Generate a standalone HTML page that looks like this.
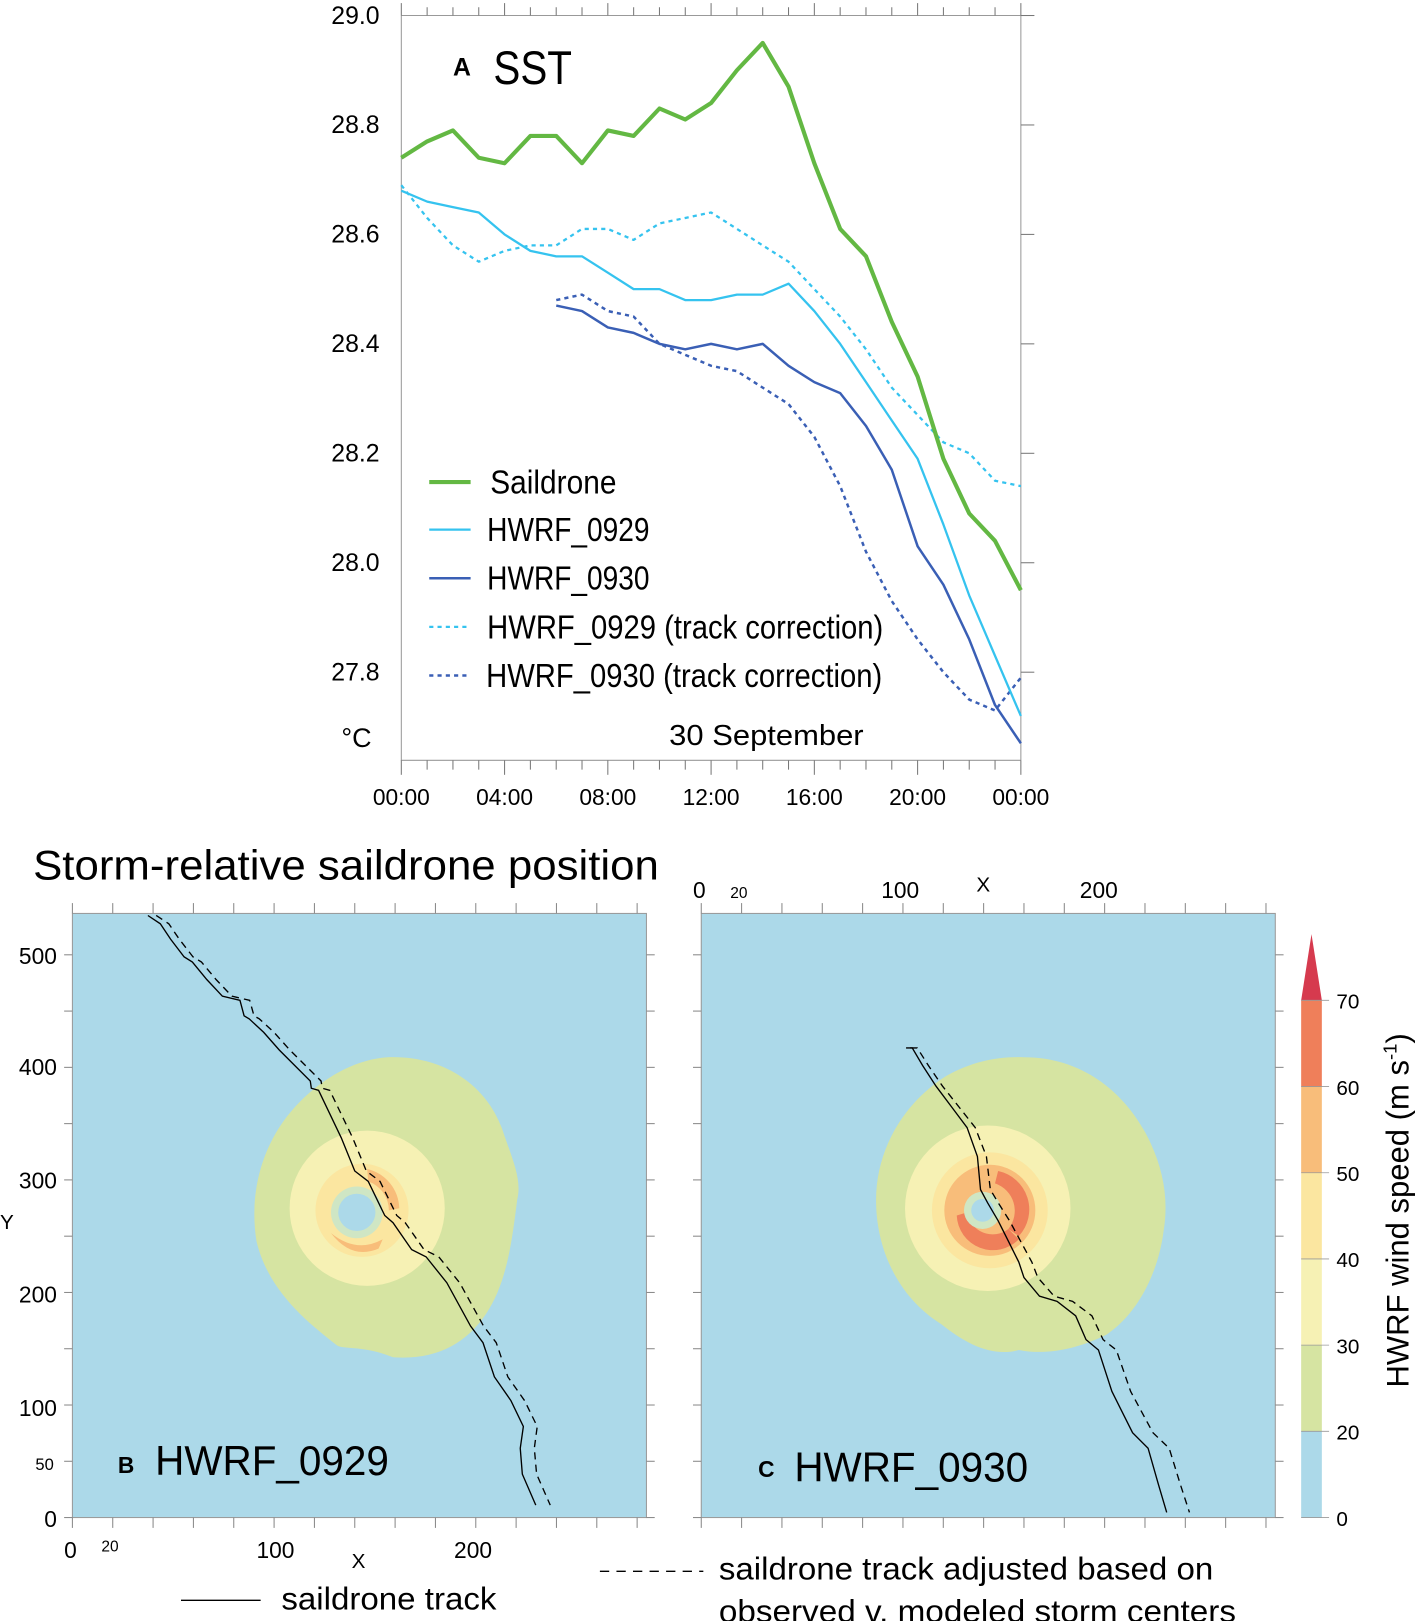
<!DOCTYPE html>
<html><head><meta charset="utf-8"><style>
html,body{margin:0;padding:0;background:#fff;}
svg{display:block;font-family:"Liberation Sans",sans-serif;}
</style></head><body>
<svg id="fig" width="1417" height="1621" viewBox="0 0 1370 1567" preserveAspectRatio="none" xmlns="http://www.w3.org/2000/svg">
<g id="panelA"></g>
<g id="panelB"></g>
<g id="panelC"></g>
</svg>
<script>
const hours = [0,1,2,3,4,5,6,7,8,9,10,11,12,13,14,15,16,17,18,19,20,21,22,23,24];
const saildrone = [28.74,28.77,28.79,28.74,28.73,28.78,28.78,28.73,28.79,28.78,28.83,28.81,28.84,28.90,28.95,28.87,28.73,28.61,28.56,28.44,28.34,28.19,28.09,28.04,27.95];
const hwrf0929 = [28.68,28.66,28.65,28.64,28.60,28.57,28.56,28.56,28.53,28.50,28.50,28.48,28.48,28.49,28.49,28.51,28.46,28.40,28.33,28.26,28.19,28.07,27.94,27.83,27.72];
const hwrf0929tc = [28.69,28.63,28.58,28.55,28.57,28.58,28.58,28.61,28.61,28.59,28.62,28.63,28.64,28.61,28.58,28.55,28.50,28.45,28.39,28.32,28.27,28.22,28.20,28.15,28.14];
const hwrf0930Hours = [6,7,8,9,10,11,12,13,14,15,16,17,18,19,20,21,22,23,24];
const hwrf0930 = [28.47,28.46,28.43,28.42,28.40,28.39,28.40,28.39,28.40,28.36,28.33,28.31,28.25,28.17,28.03,27.96,27.86,27.74,27.67];
const hwrf0930tc = [28.48,28.49,28.46,28.45,28.40,28.38,28.36,28.35,28.32,28.29,28.23,28.14,28.02,27.93,27.86,27.80,27.75,27.73,27.79];
const yTicks = [29.0,28.8,28.6,28.4,28.2,28.0,27.8];
const xTickHours = [0,4,8,12,16,20,24];
const xTickLabels = ["00:00","04:00","08:00","12:00","16:00","20:00","00:00"];
const legendLabels = ["Saildrone","HWRF_0929","HWRF_0930","HWRF_0929 (track correction)","HWRF_0930 (track correction)"];
const cbLevels = [0,20,30,40,50,60,70];
const cbColors = ["#acd9e9","#d6e4a2","#f6f1b4","#fbe6a0","#f8bd7a","#ef7f5a"];

const NS="http://www.w3.org/2000/svg";
function mk(parent,tag,attrs,text){const e=document.createElementNS(NS,tag);for(const k in attrs)e.setAttribute(k,attrs[k]);if(text!==undefined)e.textContent=text;parent.appendChild(e);return e;}
const A=document.getElementById('panelA');
const X0=388,X1=987,Ytop=15,Ybot=735;
const sx=h=>X0+(X1-X0)*h/24;
const sy=v=>15+(29.0-v)/0.2*105.8;
let e;
e=mk(A,'path',{d:`M${X0},${Ytop}H1000M${X0},${Ytop}V${Ybot}H${X1}M${X1},${Ytop}V${Ybot}`,stroke:'#999',fill:'none','stroke-width':1});

for(let h=0;h<=24;h++){const x=sx(h);const big=h%4===0;
 mk(A,'line',{x1:x,x2:x,y1:Ytop,y2:Ytop-(big?12:8),stroke:'#777'});
 mk(A,'line',{x1:x,x2:x,y1:Ybot,y2:Ybot+(big?14:9),stroke:'#777'});}
yTicks.forEach(v=>{const y=sy(v);
 mk(A,'line',{x1:X1,x2:1000,y1:y,y2:y,stroke:'#777'});
 e=mk(A,'text',{x:367,y:y+8,'text-anchor':'end','font-size':24},v.toFixed(1));
 });
xTickHours.forEach((h,i)=>{e=mk(A,'text',{x:sx(h),y:778,'text-anchor':'middle','font-size':22},xTickLabels[i]);
 });
function line(xs,vs,color,w,dash,name){const d=vs.map((v,i)=>(i?'L':'M')+sx(xs[i]).toFixed(1)+','+sy(v).toFixed(1)).join('');
 const p=mk(A,'path',{d,stroke:color,'stroke-width':w,fill:'none','stroke-linejoin':'round'});if(dash)p.setAttribute('stroke-dasharray',dash);
 }
line(hours,hwrf0929tc,'#35c3ef',2.2,'4,4','series-hwrf0929-track-correction');
line(hwrf0930Hours,hwrf0930tc,'#3a5fb5',2.4,'4,4','series-hwrf0930-track-correction');
line(hours,hwrf0929,'#35c3ef',2.2,null,'series-hwrf0929');
line(hwrf0930Hours,hwrf0930,'#3a5fb5',2.4,null,'series-hwrf0930');
line(hours,saildrone,'#63b843',4,null,'series-saildrone');
e=mk(A,'text',{x:438,y:73,'font-size':24,'font-weight':'bold'},'A');
e=mk(A,'text',{x:477,y:81,'font-size':46,textLength:76,lengthAdjust:'spacingAndGlyphs'},'SST');
e=mk(A,'text',{x:330,y:722,'font-size':26},'°C');
e=mk(A,'text',{x:647,y:720,'font-size':28,textLength:188,lengthAdjust:'spacingAndGlyphs'},'30 September');
const legStyle=[['#63b843',4,null],['#35c3ef',2.2,null],['#3a5fb5',2.4,null],['#35c3ef',2.2,'4,4'],['#3a5fb5',2.4,'4,4']];
const legY=[466,512,559,606,653];const legX=[474,471,471,471,470];const legW=[122,157,157,383,383];
legendLabels.forEach((t,i)=>{const y=legY[i];
 const l=mk(A,'line',{x1:415,x2:455,y1:y,y2:y,stroke:legStyle[i][0],'stroke-width':legStyle[i][1]});if(legStyle[i][2])l.setAttribute('stroke-dasharray',legStyle[i][2]);
 
 const tx=mk(A,'text',{x:legX[i],y:y+11,'font-size':32,textLength:legW[i],lengthAdjust:'spacingAndGlyphs'},t);
 });

const svg=document.getElementById('fig');
e=mk(svg,'text',{x:32,y:850,'font-size':40,textLength:605,lengthAdjust:'spacingAndGlyphs'},'Storm-relative saildrone position');

function panel(g,px){
 const x0=px,x1=px+555,y0=883,y1=1467;
 e=mk(g,'rect',{x:x0,y:y0,width:555,height:584,fill:'#acd9e9',stroke:'#999'});
 
 for(let k=0;k<=14;k++){const x=x0+39*k;if(x>x1+1)break;
  mk(g,'line',{x1:x,x2:x,y1:y1,y2:y1+10,stroke:'#888'});mk(g,'line',{x1:x,x2:x,y1:y0,y2:y0-10,stroke:'#888'});}
 for(let v=0;v<=500;v+=50){const y=1467-v*1.088;mk(g,'line',{x1:x0-8,x2:x0,y1:y,y2:y,stroke:'#888'});mk(g,'line',{x1:x1,x2:x1+8,y1:y,y2:y,stroke:'#888'});}
}
const B=document.getElementById('panelB'),C=document.getElementById('panelC');
panel(B,70);panel(C,678);
mk(B,'path',{d:'M375,1022 C430,1020 470,1050 485,1090 C495,1120 505,1140 500,1160 C495,1200 490,1240 470,1270 C450,1300 420,1315 380,1312 C350,1300 330,1305 325,1300 C300,1280 260,1250 248,1200 C240,1150 255,1100 290,1065 C315,1040 345,1024 375,1022Z',fill:'#d6e4a2',});
mk(B,'circle',{cx:355,cy:1168,r:75,fill:'#f6f1b4',});
mk(B,'circle',{cx:350,cy:1170,r:45,fill:'#fbe6a0',});
mk(B,'path',{d:'M355,1130 A40,40 0 0 1 386,1168 L376,1170 A30,30 0 0 0 356,1142Z',fill:'#f8bd7a',});
mk(B,'path',{d:'M320,1192 Q345,1212 370,1198 L366,1207 Q340,1218 320,1192Z',fill:'#f8bd7a',});
mk(B,'circle',{cx:345,cy:1172,r:25,fill:'#cfe6c4',});
mk(B,'circle',{cx:345,cy:1172,r:18,fill:'#acd9e9',});
mk(C,'path',{d:'M990,1022 C1050,1022 1090,1060 1110,1100 C1125,1130 1130,1160 1125,1190 C1120,1230 1100,1270 1070,1290 C1040,1305 1010,1310 985,1305 C960,1312 935,1300 910,1280 C870,1255 847,1210 847,1160 C847,1110 875,1065 915,1040 C940,1026 965,1021 990,1022Z',fill:'#d6e4a2',});
mk(C,'circle',{cx:955,cy:1168,r:80,fill:'#f6f1b4',});
mk(C,'circle',{cx:957,cy:1170,r:56,fill:'#fbe6a0',});
mk(C,'circle',{cx:957,cy:1170,r:44,fill:'#f8bd7a',});
mk(C,'path',{d:'M965,1132 A38,38 0 0 1 985,1195 L975,1188 A28,28 0 0 0 962,1144Z',fill:'#ef7f5a',});
mk(C,'path',{d:'M925,1175 A35,35 0 0 0 985,1198 L975,1188 A25,25 0 0 1 935,1172Z',fill:'#ef7f5a',});
mk(C,'circle',{cx:950,cy:1170,r:18,fill:'#cfe6c4',});
mk(C,'circle',{cx:950,cy:1170,r:11,fill:'#acd9e9',});
const trackB=[[143,885],[155,893],[165,908],[178,925],[186,930],[200,947],[215,963],[232,967],[236,982],[241,985],[255,998],[270,1015],[300,1045],[301,1052],[308,1054],[330,1100],[343,1132],[356,1142],[372,1175],[380,1182],[398,1208],[412,1215],[432,1240],[455,1282],[467,1298],[478,1331],[494,1354],[506,1379],[503,1400],[505,1425],[518,1455]];
const trackC=[[876,1013],[882,1013],[892,1030],[905,1050],[920,1070],[935,1090],[945,1118],[948,1150],[955,1163],[965,1180],[975,1200],[985,1220],[990,1235],[1005,1253],[1022,1258],[1040,1272],[1050,1295],[1062,1305],[1075,1345],[1085,1365],[1095,1385],[1110,1400],[1120,1435],[1128,1462]];
function trk(g,pts,dx0,dx1,dash,name){const n=pts.length;const d=pts.map((p,i)=>(i?'L':'M')+(p[0]+dx0+(dx1-dx0)*i/(n-1)).toFixed(1)+','+p[1]).join('');
 const p=mk(g,'path',{d,stroke:'#000','stroke-width':1.3,fill:'none'});if(dash)p.setAttribute('stroke-dasharray',dash);
 }
trk(B,trackB,0,0,null,'saildrone-track-b');trk(B,trackB,8,14,'7,5','adjusted-track-b');
trk(C,trackC,0,0,null,'saildrone-track-c');trk(C,trackC,4,22,'7,5','adjusted-track-c');
function T(g,x,y,s,t,name,extra){const o={x,y,'font-size':s};Object.assign(o,extra||{});e=mk(g,'text',o,t);}
[[500,923],[400,1030],[300,1140],[200,1250],[100,1360],[0,1467]].forEach(a=>T(B,55,a[1]+9,22,String(a[0]),'y-tick-label',{'text-anchor':'end'}));
T(B,52,1421,16,'50','y-tick-label',{'text-anchor':'end'});
T(B,0,1188,20,'Y','y-axis-title');
T(B,62,1506,22,'0','x-tick-label');T(B,98,1500,15,'20','x-tick-label');T(B,248,1506,22,'100','x-tick-label');T(B,340,1516,20,'X','x-axis-title');T(B,439,1506,22,'200','x-tick-label');
T(C,670,868,22,'0','x-tick-label');T(C,706,868,15,'20','x-tick-label');T(C,852,868,22,'100','x-tick-label');T(C,944,862,20,'X','x-axis-title');T(C,1044,868,22,'200','x-tick-label');
T(B,114,1424,22,'B','panel-b-letter',{'font-weight':'bold'});T(B,150,1426,40,'HWRF_0929','panel-b-title',{textLength:226,lengthAdjust:'spacingAndGlyphs'});
T(C,733,1428,22,'C','panel-c-letter',{'font-weight':'bold'});T(C,768,1432,40,'HWRF_0930','panel-c-title',{textLength:226,lengthAdjust:'spacingAndGlyphs'});
const cb=mk(svg,'g',{});
const cy=i=>1467-i*(500/6);
for(let i=0;i<cbColors.length;i++){mk(cb,'rect',{x:1258,y:cy(i+1),width:20,height:500/6,fill:cbColors[i]});}
mk(cb,'path',{d:`M1258,${cy(6)}L1268,903L1278,${cy(6)}Z`,fill:'#d63a4e'});
cbLevels.forEach((v,i)=>{mk(cb,'line',{x1:1258,x2:1285,y1:cy(i),y2:cy(i),stroke:'#999','stroke-width':0.8});T(cb,1292,cy(i)+8,20,String(v),'colorbar-tick-label');});
e=mk(svg,'text',{transform:'translate(1362,1170) rotate(-90)','text-anchor':'middle','font-size':30},'');

e.innerHTML='HWRF wind speed (m s<tspan dy="-12" font-size="18">-1</tspan><tspan dy="12">)</tspan>';
const lg=mk(svg,'g',{});
mk(lg,'line',{x1:175,x2:252,y1:1547,y2:1547,stroke:'#000','stroke-width':1.3});
T(lg,272,1556,30,'saildrone track','legend-entry',{textLength:208,lengthAdjust:'spacingAndGlyphs'});
mk(lg,'line',{x1:580,x2:680,y1:1519,y2:1519,stroke:'#000','stroke-width':1.3,'stroke-dasharray':'9,7'});
T(lg,695,1527,30,'saildrone track adjusted based on','legend-entry',{textLength:478,lengthAdjust:'spacingAndGlyphs'});
T(lg,695,1568,30,'observed v. modeled storm centers','legend-entry',{textLength:500,lengthAdjust:'spacingAndGlyphs'});
</script>
</body></html>
